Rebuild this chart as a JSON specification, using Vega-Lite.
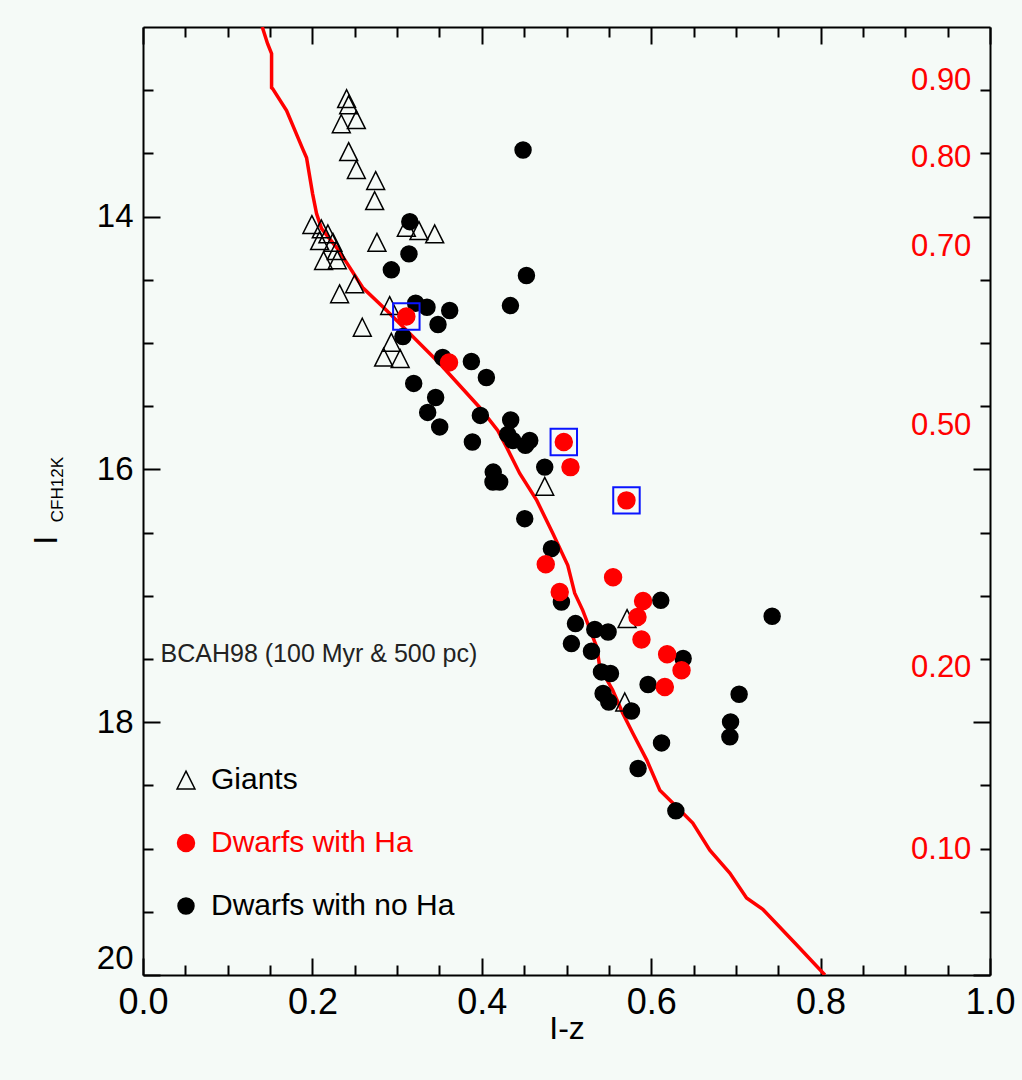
{
  "$schema": "https://vega.github.io/schema/vega-lite/v6.json",
  "width": 847,
  "height": 948,
  "autosize": "none",
  "padding": {"left": 143, "top": 27, "right": 32, "bottom": 105},
  "background": "#f5faf7",
  "datasets": {
    "iso": [
      {"x": 0.1408, "y": 12.5}, {"x": 0.1471, "y": 12.632}, {"x": 0.1518, "y": 12.711}, {"x": 0.1518, "y": 12.98},
      {"x": 0.153, "y": 12.988}, {"x": 0.1695, "y": 13.162}, {"x": 0.1884, "y": 13.462}, {"x": 0.1931, "y": 13.534},
      {"x": 0.2002, "y": 13.818}, {"x": 0.2049, "y": 13.976}, {"x": 0.2108, "y": 14.095}, {"x": 0.2286, "y": 14.245},
      {"x": 0.2404, "y": 14.364}, {"x": 0.2593, "y": 14.561}, {"x": 0.2877, "y": 14.743}, {"x": 0.3031, "y": 14.846},
      {"x": 0.3503, "y": 15.162}, {"x": 0.3975, "y": 15.51}, {"x": 0.4188, "y": 15.692}, {"x": 0.4294, "y": 15.826},
      {"x": 0.4448, "y": 16.032}, {"x": 0.4649, "y": 16.245}, {"x": 0.4838, "y": 16.506}, {"x": 0.5015, "y": 16.759},
      {"x": 0.5097, "y": 16.98}, {"x": 0.5192, "y": 17.115}, {"x": 0.5357, "y": 17.407}, {"x": 0.5393, "y": 17.565},
      {"x": 0.5546, "y": 17.747}, {"x": 0.5664, "y": 17.929}, {"x": 0.5783, "y": 18.087}, {"x": 0.5948, "y": 18.3},
      {"x": 0.6102, "y": 18.538}, {"x": 0.6255, "y": 18.64}, {"x": 0.6491, "y": 18.798}, {"x": 0.6692, "y": 19.012},
      {"x": 0.6928, "y": 19.194}, {"x": 0.7126, "y": 19.391}, {"x": 0.7318, "y": 19.481}, {"x": 0.7716, "y": 19.761},
      {"x": 0.8051, "y": 20.0}
    ],
    "stars": [
      {"type": "Giants", "x": 0.2404, "y": 13.067}, {"type": "Giants", "x": 0.2428, "y": 13.115},
      {"type": "Giants", "x": 0.2341, "y": 13.265}, {"type": "Giants", "x": 0.2519, "y": 13.233},
      {"type": "Giants", "x": 0.2428, "y": 13.486}, {"type": "Giants", "x": 0.2519, "y": 13.628},
      {"type": "Giants", "x": 0.2747, "y": 13.715}, {"type": "Giants", "x": 0.2735, "y": 13.874},
      {"type": "Giants", "x": 0.1994, "y": 14.063}, {"type": "Giants", "x": 0.2105, "y": 14.097},
      {"type": "Giants", "x": 0.2183, "y": 14.137}, {"type": "Giants", "x": 0.2085, "y": 14.19},
      {"type": "Giants", "x": 0.2242, "y": 14.203}, {"type": "Giants", "x": 0.2762, "y": 14.203},
      {"type": "Giants", "x": 0.3109, "y": 14.085}, {"type": "Giants", "x": 0.3258, "y": 14.111},
      {"type": "Giants", "x": 0.3444, "y": 14.137}, {"type": "Giants", "x": 0.2282, "y": 14.269},
      {"type": "Giants", "x": 0.2132, "y": 14.348}, {"type": "Giants", "x": 0.2294, "y": 14.342},
      {"type": "Giants", "x": 0.2499, "y": 14.532}, {"type": "Giants", "x": 0.2321, "y": 14.611},
      {"type": "Giants", "x": 0.2912, "y": 14.704}, {"type": "Giants", "x": 0.2589, "y": 14.875},
      {"type": "Giants", "x": 0.2932, "y": 14.994}, {"type": "Giants", "x": 0.2841, "y": 15.112},
      {"type": "Giants", "x": 0.3036, "y": 15.123}, {"type": "Giants", "x": 0.4743, "y": 16.134},
      {"type": "Giants", "x": 0.5715, "y": 17.18}, {"type": "Giants", "x": 0.5688, "y": 17.84},
      {"type": "Dwarfs with no Ha", "x": 0.4487, "y": 13.473}, {"type": "Dwarfs with no Ha", "x": 0.315, "y": 14.04},
      {"type": "Dwarfs with no Ha", "x": 0.314, "y": 14.295}, {"type": "Dwarfs with no Ha", "x": 0.2932, "y": 14.421},
      {"type": "Dwarfs with no Ha", "x": 0.4527, "y": 14.466}, {"type": "Dwarfs with no Ha", "x": 0.3219, "y": 14.685},
      {"type": "Dwarfs with no Ha", "x": 0.3353, "y": 14.717}, {"type": "Dwarfs with no Ha", "x": 0.3621, "y": 14.743},
      {"type": "Dwarfs with no Ha", "x": 0.4338, "y": 14.704}, {"type": "Dwarfs with no Ha", "x": 0.3483, "y": 14.854},
      {"type": "Dwarfs with no Ha", "x": 0.3069, "y": 14.949}, {"type": "Dwarfs with no Ha", "x": 0.3538, "y": 15.115},
      {"type": "Dwarfs with no Ha", "x": 0.3877, "y": 15.146}, {"type": "Dwarfs with no Ha", "x": 0.4054, "y": 15.273},
      {"type": "Dwarfs with no Ha", "x": 0.3196, "y": 15.32}, {"type": "Dwarfs with no Ha", "x": 0.3455, "y": 15.431},
      {"type": "Dwarfs with no Ha", "x": 0.3361, "y": 15.549}, {"type": "Dwarfs with no Ha", "x": 0.3503, "y": 15.664},
      {"type": "Dwarfs with no Ha", "x": 0.3983, "y": 15.573}, {"type": "Dwarfs with no Ha", "x": 0.4341, "y": 15.609},
      {"type": "Dwarfs with no Ha", "x": 0.4306, "y": 15.723}, {"type": "Dwarfs with no Ha", "x": 0.4365, "y": 15.771},
      {"type": "Dwarfs with no Ha", "x": 0.4566, "y": 15.771}, {"type": "Dwarfs with no Ha", "x": 0.4515, "y": 15.81},
      {"type": "Dwarfs with no Ha", "x": 0.3889, "y": 15.783}, {"type": "Dwarfs with no Ha", "x": 0.4743, "y": 15.982},
      {"type": "Dwarfs with no Ha", "x": 0.4135, "y": 16.021}, {"type": "Dwarfs with no Ha", "x": 0.4211, "y": 16.1},
      {"type": "Dwarfs with no Ha", "x": 0.4132, "y": 16.1}, {"type": "Dwarfs with no Ha", "x": 0.4507, "y": 16.39},
      {"type": "Dwarfs with no Ha", "x": 0.4822, "y": 16.627}, {"type": "Dwarfs with no Ha", "x": 0.494, "y": 17.049},
      {"type": "Dwarfs with no Ha", "x": 0.5106, "y": 17.22}, {"type": "Dwarfs with no Ha", "x": 0.5334, "y": 17.267},
      {"type": "Dwarfs with no Ha", "x": 0.5491, "y": 17.286}, {"type": "Dwarfs with no Ha", "x": 0.6113, "y": 17.036},
      {"type": "Dwarfs with no Ha", "x": 0.7428, "y": 17.162}, {"type": "Dwarfs with no Ha", "x": 0.5058, "y": 17.378},
      {"type": "Dwarfs with no Ha", "x": 0.5295, "y": 17.439}, {"type": "Dwarfs with no Ha", "x": 0.6377, "y": 17.496},
      {"type": "Dwarfs with no Ha", "x": 0.5413, "y": 17.602}, {"type": "Dwarfs with no Ha", "x": 0.5519, "y": 17.615},
      {"type": "Dwarfs with no Ha", "x": 0.5963, "y": 17.702}, {"type": "Dwarfs with no Ha", "x": 0.5432, "y": 17.773},
      {"type": "Dwarfs with no Ha", "x": 0.5499, "y": 17.84}, {"type": "Dwarfs with no Ha", "x": 0.5767, "y": 17.911},
      {"type": "Dwarfs with no Ha", "x": 0.7038, "y": 17.779}, {"type": "Dwarfs with no Ha", "x": 0.6937, "y": 17.998},
      {"type": "Dwarfs with no Ha", "x": 0.6929, "y": 18.116}, {"type": "Dwarfs with no Ha", "x": 0.6122, "y": 18.164},
      {"type": "Dwarfs with no Ha", "x": 0.5845, "y": 18.366}, {"type": "Dwarfs with no Ha", "x": 0.6291, "y": 18.701},
      {"type": "Dwarfs with Ha", "x": 0.3109, "y": 14.791, "boxed": true}, {"type": "Dwarfs with Ha", "x": 0.3613, "y": 15.154},
      {"type": "Dwarfs with Ha", "x": 0.4968, "y": 15.784, "boxed": true}, {"type": "Dwarfs with Ha", "x": 0.5047, "y": 15.982},
      {"type": "Dwarfs with Ha", "x": 0.5708, "y": 16.245, "boxed": true}, {"type": "Dwarfs with Ha", "x": 0.4755, "y": 16.751},
      {"type": "Dwarfs with Ha", "x": 0.555, "y": 16.854}, {"type": "Dwarfs with Ha", "x": 0.492, "y": 16.97},
      {"type": "Dwarfs with Ha", "x": 0.5904, "y": 17.041}, {"type": "Dwarfs with Ha", "x": 0.5838, "y": 17.168},
      {"type": "Dwarfs with Ha", "x": 0.5885, "y": 17.346}, {"type": "Dwarfs with Ha", "x": 0.6188, "y": 17.462},
      {"type": "Dwarfs with Ha", "x": 0.6358, "y": 17.589}, {"type": "Dwarfs with Ha", "x": 0.6161, "y": 17.721}
    ],
    "masses": [
      {"mass": "0.90", "x": 0.978, "y": 12.925}, {"mass": "0.80", "x": 0.978, "y": 13.534},
      {"mass": "0.70", "x": 0.978, "y": 14.237}, {"mass": "0.50", "x": 0.978, "y": 15.66},
      {"mass": "0.20", "x": 0.978, "y": 17.573}, {"mass": "0.10", "x": 0.978, "y": 19.012}
    ],
    "notes": [
      {"label": "BCAH98 (100 Myr & 500 pc)", "x": 0.0207, "y": 17.462}
    ],
    "ytitle": [
      {"label": "I", "part": "main", "x": -0.113, "y": 16.56},
      {"label": "CFH12K", "part": "sub", "x": -0.1, "y": 16.16}
    ]
  },
  "resolve": {"axis": {"x": "independent", "y": "independent"}},
  "layer": [
    {
      "data": {"name": "iso"},
      "mark": {"type": "line", "color": "#ff0000", "strokeWidth": 3.5, "clip": true},
      "encoding": {
        "x": {"field": "x", "type": "quantitative",
          "scale": {"domain": [0, 1], "nice": false, "zero": false},
          "axis": {
            "orient": "bottom", "title": "I-z", "titleFontSize": 32, "titlePadding": -14,
            "values": [0, 0.05, 0.1, 0.15, 0.2, 0.25, 0.3, 0.35, 0.4, 0.45, 0.5, 0.55, 0.6, 0.65, 0.7, 0.75, 0.8, 0.85, 0.9, 0.95, 1.0],
            "labelExpr": "abs(datum.value*5 - round(datum.value*5)) < 0.001 ? format(datum.value, '.1f') : ''",
            "tickSize": {"condition": {"test": "abs(datum.value*5 - round(datum.value*5)) < 0.001", "value": -17}, "value": -10},
            "labelPadding": 27, "labelFontSize": 36, "labelFlush": false, "labelOverlap": false
          }},
        "y": {"field": "y", "type": "quantitative",
          "scale": {"domain": [12.5, 20], "reverse": true, "nice": false, "zero": false},
          "axis": {
            "orient": "left", "title": null,
            "values": [13, 13.5, 14, 14.5, 15, 15.5, 16, 16.5, 17, 17.5, 18, 18.5, 19, 19.5, 20],
            "labelExpr": "datum.value % 2 === 0 ? format(datum.value, 'd') : ''",
            "tickSize": {"condition": {"test": "datum.value % 2 === 0", "value": -17}, "value": -10},
            "labelPadding": 27, "labelFontSize": 33, "labelFlush": true, "labelFlushOffset": 0, "labelOverlap": false
          }},
        "order": {"field": "y", "type": "quantitative"}
      }
    },
    {
      "data": {"name": "stars"},
      "mark": {"type": "point", "opacity": 1, "strokeWidth": 1.5},
      "encoding": {
        "x": {"field": "x", "type": "quantitative", "scale": {"domain": [0, 1], "nice": false, "zero": false}, "axis": null},
        "y": {"field": "y", "type": "quantitative", "scale": {"domain": [12.5, 20], "reverse": true, "nice": false, "zero": false}, "axis": null},
        "shape": {"field": "type", "type": "nominal",
          "scale": {"domain": ["Giants", "Dwarfs with Ha", "Dwarfs with no Ha"], "range": ["M0,-1L1,1L-1,1Z", "circle", "circle"]},
          "legend": {
            "orient": "none", "legendX": 28, "legendY": 738, "title": null, "padding": 0,
            "labelFont": "Liberation Sans", "labelFontSize": 30, "labelOffset": 10, "rowPadding": 33, "labelLimit": 600,
            "symbolStrokeWidth": 1.5,
            "labelColor": {"expr": "datum.value === 'Dwarfs with Ha' ? '#ff0000' : '#000000'"}
          }},
        "fill": {"field": "type", "type": "nominal",
          "scale": {"domain": ["Giants", "Dwarfs with Ha", "Dwarfs with no Ha"], "range": ["transparent", "#ff0000", "#000000"]}},
        "stroke": {"field": "type", "type": "nominal",
          "scale": {"domain": ["Giants", "Dwarfs with Ha", "Dwarfs with no Ha"], "range": ["#000000", "#ff0000", "#000000"]}},
        "size": {"field": "type", "type": "nominal",
          "scale": {"domain": ["Giants", "Dwarfs with Ha", "Dwarfs with no Ha"], "range": [320, 255, 255]}}
      }
    },
    {
      "data": {"name": "stars"},
      "transform": [{"filter": "datum.boxed === true"}],
      "mark": {"type": "point", "shape": "square", "filled": false, "opacity": 1, "color": "#0a14ff", "strokeWidth": 2, "size": 700},
      "encoding": {
        "x": {"field": "x", "type": "quantitative", "scale": {"domain": [0, 1], "nice": false, "zero": false}, "axis": null},
        "y": {"field": "y", "type": "quantitative", "scale": {"domain": [12.5, 20], "reverse": true, "nice": false, "zero": false}, "axis": null}
      }
    },
    {
      "data": {"name": "masses"},
      "mark": {"type": "text", "align": "right", "baseline": "middle", "color": "#ff0000", "fontSize": 31, "font": "Liberation Sans"},
      "encoding": {
        "x": {"field": "x", "type": "quantitative", "scale": {"domain": [0, 1], "nice": false, "zero": false},
          "axis": {
            "orient": "top", "title": null, "labels": false,
            "values": [0, 0.05, 0.1, 0.15, 0.2, 0.25, 0.3, 0.35, 0.4, 0.45, 0.5, 0.55, 0.6, 0.65, 0.7, 0.75, 0.8, 0.85, 0.9, 0.95, 1.0],
            "tickSize": {"condition": {"test": "abs(datum.value*5 - round(datum.value*5)) < 0.001", "value": -17}, "value": -10}
          }},
        "y": {"field": "y", "type": "quantitative", "scale": {"domain": [12.5, 20], "reverse": true, "nice": false, "zero": false},
          "axis": {
            "orient": "right", "title": null, "labels": false,
            "values": [13, 13.5, 14, 14.5, 15, 15.5, 16, 16.5, 17, 17.5, 18, 18.5, 19, 19.5, 20],
            "tickSize": {"condition": {"test": "datum.value % 2 === 0", "value": -17}, "value": -10}
          }},
        "text": {"field": "mass", "type": "nominal"}
      }
    },
    {
      "data": {"name": "notes"},
      "mark": {"type": "text", "align": "left", "baseline": "middle", "color": "#222222", "fontSize": 25, "font": "Liberation Sans"},
      "encoding": {
        "x": {"field": "x", "type": "quantitative", "scale": {"domain": [0, 1], "nice": false, "zero": false}, "axis": null},
        "y": {"field": "y", "type": "quantitative", "scale": {"domain": [12.5, 20], "reverse": true, "nice": false, "zero": false}, "axis": null},
        "text": {"field": "label", "type": "nominal"}
      }
    },
    {
      "data": {"name": "ytitle"},
      "transform": [{"filter": "datum.part === 'main'"}],
      "mark": {"type": "text", "align": "center", "baseline": "middle", "angle": 270, "color": "#000000", "font": "Liberation Sans", "fontSize": 34},
      "encoding": {
        "x": {"field": "x", "type": "quantitative", "scale": {"domain": [0, 1], "nice": false, "zero": false}, "axis": null},
        "y": {"field": "y", "type": "quantitative", "scale": {"domain": [12.5, 20], "reverse": true, "nice": false, "zero": false}, "axis": null},
        "text": {"field": "label", "type": "nominal"}
      }
    },
    {
      "data": {"name": "ytitle"},
      "transform": [{"filter": "datum.part === 'sub'"}],
      "mark": {"type": "text", "align": "center", "baseline": "middle", "angle": 270, "color": "#000000", "font": "Liberation Sans", "fontSize": 17},
      "encoding": {
        "x": {"field": "x", "type": "quantitative", "scale": {"domain": [0, 1], "nice": false, "zero": false}, "axis": null},
        "y": {"field": "y", "type": "quantitative", "scale": {"domain": [12.5, 20], "reverse": true, "nice": false, "zero": false}, "axis": null},
        "text": {"field": "label", "type": "nominal"}
      }
    }
  ],
  "config": {
    "view": {"stroke": null},
    "axis": {
      "grid": false, "domainColor": "#000000", "domainWidth": 2, "tickColor": "#000000", "tickWidth": 2,
      "labelFont": "Liberation Sans", "titleFont": "Liberation Sans", "labelColor": "#000000", "titleColor": "#000000",
      "titleFontWeight": "normal"
    },
    "text": {"font": "Liberation Sans"}
  }
}
